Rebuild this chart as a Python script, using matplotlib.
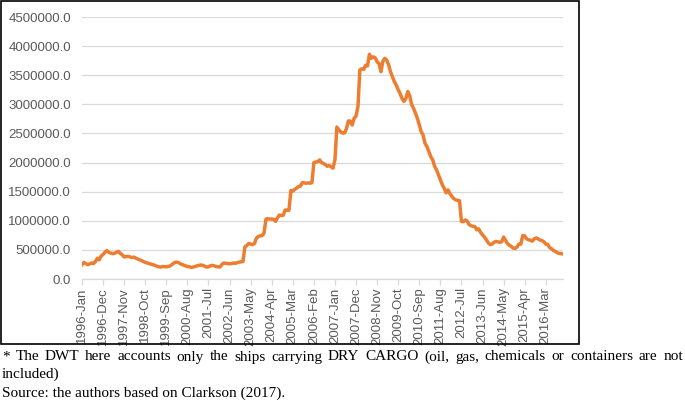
import matplotlib
matplotlib.use("Agg")
import matplotlib.pyplot as plt
from matplotlib.patches import Rectangle

# ================= DATA (DWT, monthly, 1996-Jan onwards) =================
dwt_thousand = [
    245, 285, 265, 245, 260, 275, 265, 300, 355, 330, 395, 420,      # 1996
    460, 490, 455, 445, 435, 440, 460, 475, 440, 415, 380, 385,      # 1997
    390, 380, 370, 375, 360, 345, 330, 320, 300, 285, 275, 265,      # 1998
    255, 245, 235, 220, 210, 205, 215, 210, 210, 215, 225, 250,      # 1999
    275, 290, 285, 270, 250, 240, 225, 215, 210, 200, 205, 215,      # 2000
    225, 235, 240, 235, 220, 205, 210, 225, 235, 225, 215, 210,      # 2001
    205, 250, 275, 270, 265, 260, 265, 275, 270, 280, 290, 295,      # 2002
    300, 550, 575, 610, 600, 590, 610, 700, 730, 740, 745, 790,      # 2003
    1030, 1035, 1030, 1030, 1025, 990, 1050, 1100, 1090, 1095, 1185, 1180,   # 2004
    1180, 1520, 1510, 1540, 1560, 1590, 1595, 1655, 1650, 1645, 1650, 1645,  # 2005
    1655, 2000, 2010, 2015, 2045, 2000, 1985, 1965, 1935, 1950, 1925, 1905,  # 2006
    2050, 2610, 2560, 2530, 2505, 2510, 2580, 2715, 2710, 2645, 2760, 2800,  # 2007
    2960, 3590, 3610, 3600, 3670, 3660, 3860, 3790, 3815, 3800, 3730, 3700,  # 2008
    3560, 3740, 3790, 3760, 3680, 3560, 3470, 3390, 3330, 3250, 3185, 3100,  # 2009
    3050, 3100, 3220, 3150, 3000, 2930, 2850, 2760, 2650, 2530, 2470, 2330,  # 2010
    2275, 2190, 2100, 2045, 1935, 1875, 1790, 1700, 1620, 1560, 1480, 1530,  # 2011
    1465, 1420, 1380, 1360, 1350, 1345, 990, 985, 1015, 995, 935, 915,       # 2012
    905, 900, 845, 860, 800, 760, 720, 675, 620, 590, 600, 630,              # 2013
    645, 640, 630, 640, 720, 665, 610, 580, 560, 530, 525, 550,              # 2014
    600, 600, 745, 740, 690, 675, 665, 650, 690, 705, 690, 670,              # 2015
    660, 640, 600, 595, 540, 520, 490, 475, 450, 440, 435, 430,              # 2016
]
dwt = [v * 1000 for v in dwt_thousand]

tick_labels = ["1996-Jan", "1996-Dec", "1997-Nov", "1998-Oct", "1999-Sep",
               "2000-Aug", "2001-Jul", "2002-Jun", "2003-May", "2004-Apr",
               "2005-Mar", "2006-Feb", "2007-Jan", "2007-Dec", "2008-Nov",
               "2009-Oct", "2010-Sep", "2011-Aug", "2012-Jul", "2013-Jun",
               "2014-May", "2015-Apr", "2016-Mar"]
tick_step = 11

y_ticks = [0, 500000, 1000000, 1500000, 2000000, 2500000,
           3000000, 3500000, 4000000, 4500000]

note_line1 = ("* The DWT here accounts only the ships carrying DRY CARGO "
              "(oil, gas, chemicals or containers are not")
note_line2 = "included)"
note_line3 = "Source: the authors based on Clarkson (2017)."

# ================= FIGURE =================
W, H = 685, 407
fig = plt.figure(figsize=(W / 100, H / 100), dpi=100)
fig.patches.append(Rectangle((0.5 / W, 1 - 344 / H), 578.5 / W, 343.5 / H,
                             transform=fig.transFigure, fill=False,
                             edgecolor="black", linewidth=1.2))

ax = fig.add_axes([82 / W, 1 - 279 / H, (563 - 82) / W, (279 - 17) / H])
x = list(range(len(dwt)))
ax.plot(x, dwt, color="#ED7D31", linewidth=2.5, solid_joinstyle="round")

ax.set_xlim(0, len(dwt) - 1)
ax.set_ylim(0, 4500000)
ax.set_yticks(y_ticks)
ax.set_yticklabels([f"{v:.1f}" for v in y_ticks])
ax.set_xticks([i * tick_step for i in range(len(tick_labels))])
ax.set_xticklabels(tick_labels, rotation=90)

ax.grid(axis="y", color="#D9D9D9", linewidth=0.9)
ax.set_axisbelow(True)
for s in ["left", "right", "top"]:
    ax.spines[s].set_visible(False)
ax.spines["bottom"].set_color("#D9D9D9")
ax.spines["bottom"].set_linewidth(0.9)
ax.tick_params(axis="y", length=0, pad=8, labelsize=9.5, labelcolor="#595959")
ax.tick_params(axis="x", length=4, width=0.9, color="#D9D9D9", pad=2,
               labelsize=9.5, labelcolor="#595959")
for lab in ax.get_xticklabels() + ax.get_yticklabels():
    lab.set_fontfamily("Liberation Sans")

# ================= FOOTNOTE (justified first line) =================
fig.canvas.draw()
renderer = fig.canvas.get_renderer()
words = note_line1.split(" ")
y1 = 1 - 357 / H
fs = 11
widths = []
for w in words:
    t = fig.text(0, y1, w, fontsize=fs, family="Liberation Serif", va="center")
    widths.append(t.get_window_extent(renderer).width)
    t.remove()
left_px, right_px = 2, 683
gap = (right_px - left_px - sum(widths)) / (len(words) - 1)
pos = left_px
for w, wd in zip(words, widths):
    fig.text(pos / W, y1, w, fontsize=fs, family="Liberation Serif", va="center")
    pos += wd + gap

fig.text(2 / W, 1 - 374 / H, note_line2, fontsize=fs,
         family="Liberation Serif", va="center")
fig.text(2 / W, 1 - 393 / H, note_line3, fontsize=fs,
         family="Liberation Serif", va="center")

fig.savefig("out.png", dpi=100)
